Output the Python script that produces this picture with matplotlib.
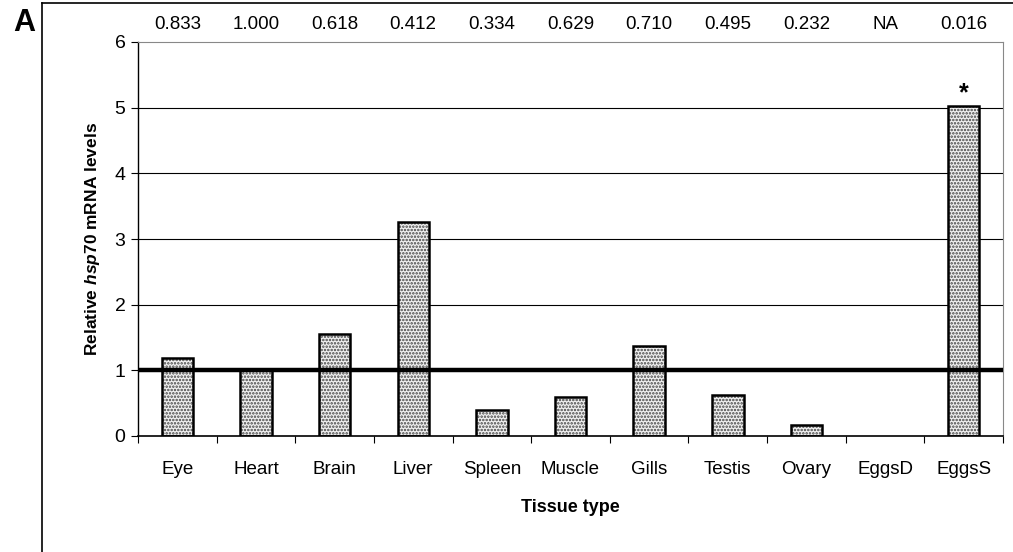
import matplotlib
matplotlib.use('Agg')
import matplotlib.pyplot as plt
import numpy as np
from matplotlib.lines import Line2D

plt.rcParams['font.family'] = ['Liberation Sans', 'DejaVu Sans']
plt.rcParams['mathtext.fontset'] = 'custom'
plt.rcParams['mathtext.it'] = 'Liberation Sans:italic:bold'
plt.rcParams['mathtext.rm'] = 'Liberation Sans:bold'
plt.rcParams['hatch.linewidth'] = 1.2

tissues = ['Eye', 'Heart', 'Brain', 'Liver', 'Spleen', 'Muscle', 'Gills',
           'Testis', 'Ovary', 'EggsD', 'EggsS']
levels = [1.19, 1.0, 1.55, 3.26, 0.40, 0.60, 1.37, 0.62, 0.16, 0.0, 5.02]
pvals = ['0.833', '1.000', '0.618', '0.412', '0.334', '0.629', '0.710',
         '0.495', '0.232', 'NA', '0.016']
signif = [False] * 10 + [True]

fig = plt.figure(figsize=(10.13, 5.52), dpi=100)
ax = fig.add_axes([138/1013, 1 - 436/552, (1003-138)/1013, (436-42)/552])

x = np.arange(len(tissues))
# dotted fill, then black outline on top (no outline for empty bars)
ax.bar(x, levels, width=0.4, color='#f0f0f0', edgecolor='#444444', hatch='.....',
       linewidth=0, zorder=2)
ax.bar(x, levels, width=0.4, fill=False, edgecolor='black',
       linewidth=[1.8 if v > 0 else 0 for v in levels], zorder=3)

ax.axhline(1, color='black', linewidth=3.2, zorder=4)

ax.set_xlim(-0.5, len(tissues) - 0.5)
ax.set_ylim(0, 6)
ax.set_yticks(range(7))
for yv in range(1, 6):
    ax.axhline(yv, color='black', linewidth=0.8, zorder=1)

ax.set_xticks(x)
ax.set_xticklabels(tissues, fontsize=13.5)
ax.set_xticks(np.arange(-0.5, len(tissues)), minor=True)
ax.tick_params(axis='x', which='major', length=0, pad=18)
ax.tick_params(axis='x', which='minor', length=5, width=0.8, direction='out')
ax.tick_params(axis='y', length=5, width=0.8, labelsize=14, pad=4)

ax.spines['top'].set_color('#888888')
ax.spines['right'].set_color('#888888')
ax.spines['left'].set_linewidth(1.0)
ax.spines['bottom'].set_linewidth(1.2)

ax.set_xlabel('Tissue type', fontsize=13, fontweight='bold', labelpad=15)
ax.set_ylabel(r'Relative $\it{hsp70}$ mRNA levels', fontsize=12.5,
              fontweight='bold', labelpad=9)

for i, p in enumerate(pvals):
    ax.text(i, 6.27, p, ha='center', va='center', fontsize=13.5, clip_on=False)
for i, s in enumerate(signif):
    if s:
        ax.text(i, levels[i] + 0.02, '*', ha='center', va='bottom',
                fontsize=18, fontweight='bold')

# panel frame and letter
fig.add_artist(Line2D([42/1013, 42/1013], [0, 1 - 3/552], color='black', linewidth=1.2))
fig.add_artist(Line2D([42/1013, 1], [1 - 3/552, 1 - 3/552], color='black', linewidth=1.2))
fig.text(24/1013, 1 - 23/552, 'A', fontsize=22, fontweight='bold', ha='center', va='center')

fig.savefig('out.png', dpi=100)
